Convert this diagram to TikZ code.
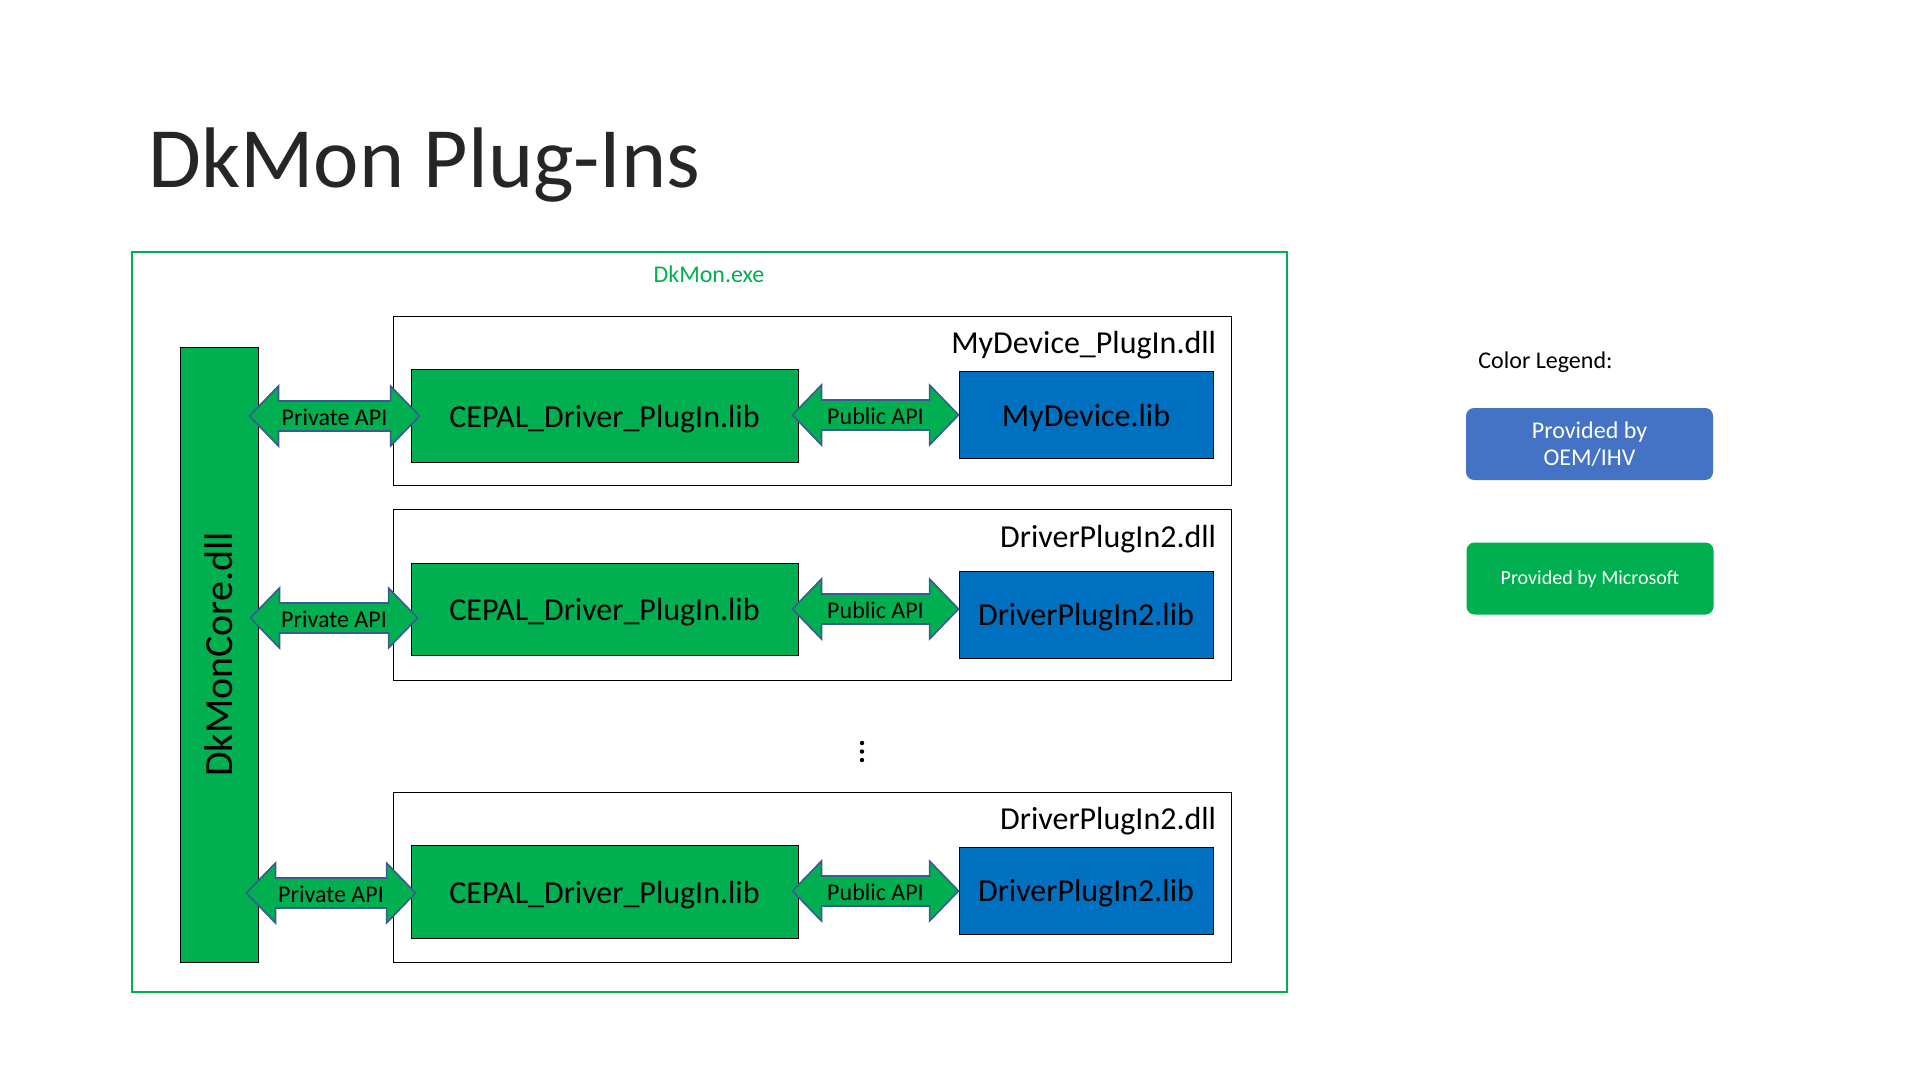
\documentclass[tikz,border=0pt]{standalone}
\usepackage{fontspec}
\setmainfont{Carlito}
\usetikzlibrary{calc}
\definecolor{msgreen}{HTML}{00B050}
\definecolor{libblue}{HTML}{0070C0}
\definecolor{legblue}{HTML}{4472C4}
\definecolor{arrowedge}{HTML}{3A5A93}
\newcommand{\fs}[2]{\fontsize{#1}{#2}\selectfont}
\newcommand{\low}[2]{\raisebox{#1}[\height][\depth]{#2}}
\newcommand{\apiarrow}[4]{%
  \draw[apishape] let \p1=(#1), \p2=(#2) in
    (\x1,\y1) -- (\x1+14.5pt,\y1+15pt) -- (\x1+14.5pt,\y1+7.5pt) --
    (\x2-14.5pt,\y1+7.5pt) -- (\x2-14.5pt,\y1+15pt) -- (\x2,\y1) --
    (\x2-14.5pt,\y1-15pt) -- (\x2-14.5pt,\y1-7.5pt) --
    (\x1+14.5pt,\y1-7.5pt) -- (\x1+14.5pt,\y1-15pt) -- cycle;
  \node[apilabel] (#4) at ($(#1)!0.5!(#2)$) {\low{-0.6pt}{#3}};
}
\begin{document}
\begin{tikzpicture}[x=0.5pt,y=-0.5pt,
  outerbox/.style={draw=msgreen, line width=0.9pt, minimum width=577.5pt, minimum height=370pt, inner sep=0pt},
  dllbox/.style={draw=black, line width=0.45pt, minimum width=419pt, inner sep=0pt},
  cepal/.style={draw=black, line width=0.45pt, fill=msgreen, minimum width=193.5pt, inner sep=0pt, font=\fs{16}{19}},
  libbox/.style={draw=black, line width=0.45pt, fill=libblue, minimum width=127pt, minimum height=43.5pt, inner sep=0pt, font=\fs{16}{19}},
  dlllabel/.style={anchor=east, font=\fs{16}{19}, inner sep=0pt},
  apishape/.style={draw=arrowedge, line width=0.8pt, fill=msgreen, line join=miter},
  apilabel/.style={font=\fs{12}{14}, inner sep=0pt},
  legbox/.style={rounded corners=4pt, minimum width=123.5pt, minimum height=36pt, inner sep=0pt, text=white, align=center}
]
\useasboundingbox (0,0) rectangle (1920,1080);
\fill[white] (0,0) rectangle (1920,1080);

% title
\node[anchor=base west, inner sep=0pt, font=\fs{43}{50}, text=black!85] (title) at (148,188) {DkMon Plug-Ins};

% outer exe box
\node[outerbox] (exe) at (709.5,622) {};
\node[text=msgreen, font=\fs{12}{14}, inner sep=0pt] (exelbl) at (709,274) {DkMon.exe};

% core
\node[draw=black, line width=0.45pt, fill=msgreen, minimum width=39pt, minimum height=307.5pt, inner sep=0pt] (core) at (219,654.5) {};
\node[rotate=90, font=\fs{20}{24}, inner sep=0pt] (corelbl) at (core.center) {DkMonCore.dll};

% dll containers
\node[dllbox, minimum height=84.5pt] (in1) at (812,400.5) {};
\node[dllbox, minimum height=85.5pt] (in2) at (812,594.5) {};
\node[dllbox, minimum height=85pt] (in3) at (812,877) {};
\node[dlllabel] (lb1) at ($(in1.north east)+(-15,30)$) {MyDevice\_PlugIn.dll};
\node[dlllabel] (lb2) at ($(in2.north east)+(-15,30.5)$) {DriverPlugIn2.dll};
\node[dlllabel] (lb3) at ($(in3.north east)+(-15,30)$) {DriverPlugIn2.dll};

% CEPAL boxes
\node[cepal, minimum height=46.5pt] (c1) at (604.5,415.5) {\low{-1.7pt}{CEPAL\_Driver\_PlugIn.lib}};
\node[cepal, minimum height=46pt] (c2) at (604.5,609) {\low{-1.7pt}{CEPAL\_Driver\_PlugIn.lib}};
\node[cepal, minimum height=46.5pt] (c3) at (604.5,891.5) {\low{-1.7pt}{CEPAL\_Driver\_PlugIn.lib}};

% lib boxes
\node[libbox] (l1) at (1086,414.5) {\low{-1.7pt}{MyDevice.lib}};
\node[libbox] (l2) at (1086,614.5) {\low{-1.5pt}{DriverPlugIn2.lib}};
\node[libbox] (l3) at (1086,890.5) {\low{-1.5pt}{DriverPlugIn2.lib}};

% endpoints
\coordinate (p1a) at ($(core.east |- c1.west)+(-9,0.5)$);
\coordinate (p1b) at ($(c1.west)+(9,0.5)$);
\coordinate (p2a) at ($(core.east |- c2.west)+(-8,9)$);
\coordinate (p2b) at ($(c2.west)+(7,9)$);
\coordinate (p3a) at ($(core.east |- c3.west)+(-12,1.5)$);
\coordinate (p3b) at ($(c3.west)+(5,1.5)$);
\coordinate (q1a) at ($(c1.east)+(-6,-0.5)$);
\coordinate (q1b) at (l1.west |- q1a);
\coordinate (q2a) at ($(c2.east)+(-6,0)$);
\coordinate (q2b) at (l2.west |- q2a);
\coordinate (q3a) at ($(c3.east)+(-6,-0.5)$);
\coordinate (q3b) at (l3.west |- q3a);

\apiarrow{p1a}{p1b}{Private API}{pa1}
\apiarrow{p2a}{p2b}{Private API}{pa2}
\apiarrow{p3a}{p3b}{Private API}{pa3}
\apiarrow{q1a}{q1b}{Public API}{pu1}
\apiarrow{q2a}{q2b}{Public API}{pu2}
\apiarrow{q3a}{q3b}{Public API}{pu3}

% vertical ellipsis
\fill (862,743) circle (1.1pt);
\fill (862,751.5) circle (1.1pt);
\fill (862,760) circle (1.1pt);

% legend
\node[anchor=west, font=\fs{12}{14}, inner sep=0pt] (legtitle) at (1478,362.5) {Color Legend:};
\node[legbox, fill=legblue, font=\fs{12}{13.5}] (legoem) at (1589.5,444) {Provided by\\OEM/IHV};
\node[legbox, fill=msgreen, font=\fs{10}{12}] (legms) at (1590,578.5) {\low{-0.5pt}{Provided by Microsoft}};
\end{tikzpicture}
\end{document}
